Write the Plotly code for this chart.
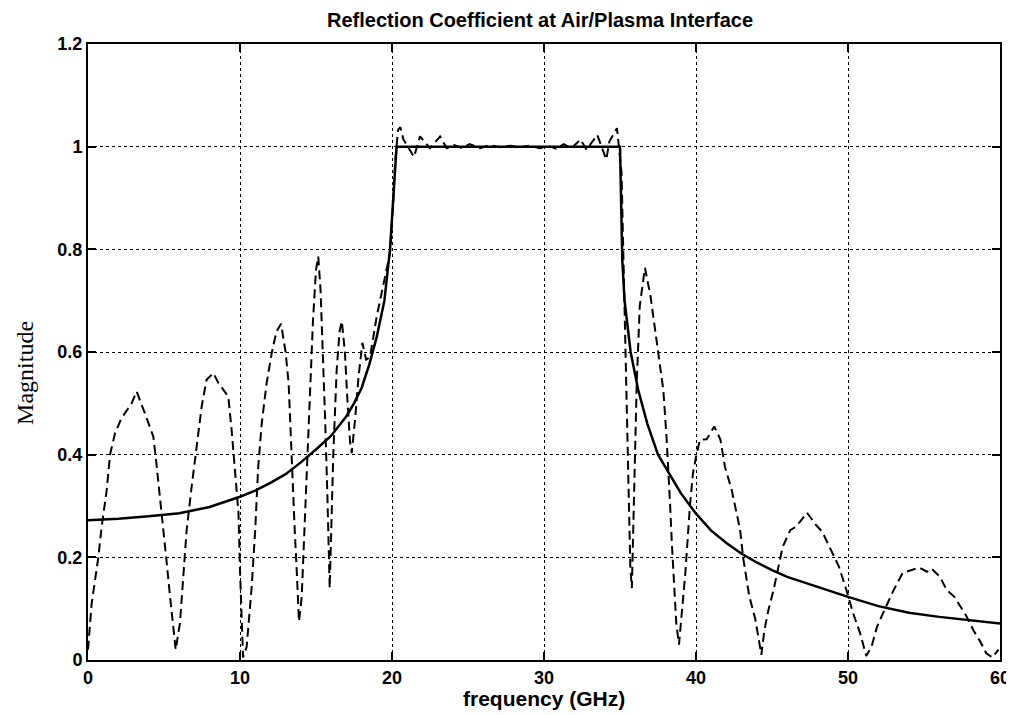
import plotly.graph_objects as go

# Solid curve: ideal reflection magnitude
solid_x = [0, 2, 4, 6, 8, 10, 11, 12, 13, 14, 15, 16, 17, 17.5, 18, 18.5, 19, 19.5, 19.87, 20.1, 20.2, 20.3,
           35.0, 35.05, 35.15, 35.3, 35.55, 35.7, 36.2, 36.8, 37.5, 38.2, 39, 40, 41, 42, 43, 44, 45, 46,
           48, 50, 52, 54, 56, 58, 60]
solid_y = [0.272, 0.275, 0.28, 0.286, 0.298, 0.318, 0.33, 0.345, 0.362, 0.385, 0.41, 0.437, 0.475, 0.5,
           0.53, 0.575, 0.63, 0.70, 0.80, 0.90, 0.955, 1.0,
           1.0, 0.9, 0.78, 0.70, 0.643, 0.60, 0.526, 0.46, 0.40, 0.364, 0.325, 0.285, 0.252, 0.228,
           0.207, 0.19, 0.175, 0.162, 0.142, 0.123, 0.105, 0.092, 0.084, 0.077, 0.071]

# Dashed curve: computed/measured response with ripples
dash_x = [0, 0.24, 0.68, 0.9, 1.23, 1.45, 1.78, 2.2, 2.87, 3.2, 3.75, 4.3, 4.5, 4.74, 4.96, 5.18, 5.4, 5.6,
          5.77, 6.05, 6.27, 6.49, 6.82, 7.15, 7.48, 7.8, 8.25, 8.57, 9.23, 9.45, 9.67, 9.9, 10.0, 10.1,
          10.2, 10.44, 10.77, 11.0, 11.2, 11.43, 11.75, 12.1, 12.4, 12.7, 13.0, 13.2, 13.4, 13.6, 13.73,
          13.88, 14.06, 14.17, 14.28, 14.4, 14.5, 14.6, 14.8, 15.0, 15.15, 15.3, 15.45, 15.6, 15.75, 15.9,
          16.0, 16.14, 16.36, 16.55, 16.7, 16.9, 17.05, 17.24, 17.35, 17.57, 17.8, 18.05, 18.3, 18.55,
          19.0, 19.3, 19.65, 19.87, 20.08, 20.2, 20.4, 20.55, 20.75, 21.3, 21.45, 21.84, 22.5, 23.16,
          23.6, 24.1, 24.6, 25.1, 25.8, 26.4, 27.1, 27.8, 28.4, 29.1, 29.7, 30.4, 30.8, 31.3, 31.8, 32.4,
          32.8, 33.5, 33.8, 34.1, 34.3, 34.8, 35.1, 35.25, 35.35, 35.45, 35.55, 35.68, 35.78, 35.9, 36.1,
          36.3, 36.64, 37.0, 37.3, 37.6, 37.85, 38.07, 38.2, 38.3, 38.4, 38.5, 38.6, 38.7, 38.88, 39.06,
          39.3, 39.6, 39.8, 40.05, 40.26, 40.7, 41.2, 41.6, 41.9, 42.35, 42.7, 42.9, 43.1, 43.3, 43.5,
          43.9, 44.3, 44.5, 44.76, 45.1, 45.5, 45.7, 46.2, 46.6, 47.3, 47.9, 48.3, 48.8, 49.4, 49.9,
          50.35, 50.8, 51.2, 51.55, 51.9, 52.5, 53.0, 53.6, 54.1, 54.7, 55.2, 55.5, 56.05, 56.5, 57.0,
          57.4, 57.8, 58.25, 58.7, 59.1, 59.5, 59.9]
dash_y = [0.02, 0.11, 0.20, 0.26, 0.331, 0.40, 0.442, 0.471, 0.50, 0.523, 0.48, 0.435, 0.383, 0.318, 0.253,
          0.189, 0.123, 0.072, 0.02, 0.072, 0.16, 0.253, 0.338, 0.416, 0.494, 0.546, 0.559, 0.54, 0.513,
          0.448, 0.37, 0.286, 0.175, 0.072, 0.005, 0.026, 0.143, 0.253, 0.377, 0.461, 0.539, 0.60, 0.64,
          0.655, 0.60, 0.539, 0.383, 0.253, 0.175, 0.075, 0.123, 0.20, 0.28, 0.37, 0.455, 0.533, 0.66,
          0.76, 0.786, 0.72, 0.60, 0.47, 0.32, 0.14, 0.25, 0.403, 0.565, 0.64, 0.66, 0.60, 0.515, 0.425,
          0.403, 0.468, 0.552, 0.618, 0.585, 0.59, 0.67, 0.714, 0.76, 0.793, 0.89, 0.968, 1.033, 1.038,
          1.014, 0.985, 0.98, 1.02, 0.997, 1.02, 0.997, 1.003, 0.997, 1.005, 0.997, 1.003, 0.999, 1.002,
          0.999, 1.002, 0.997, 1.0, 0.996, 1.005, 0.997, 1.014, 0.994, 1.023, 0.997, 0.975, 1.01, 1.036,
          0.95, 0.75, 0.6, 0.45, 0.3, 0.18, 0.14, 0.3, 0.54, 0.69, 0.764, 0.71, 0.643, 0.58, 0.526, 0.43,
          0.364, 0.30, 0.234, 0.17, 0.117, 0.072, 0.03, 0.084, 0.17, 0.30, 0.364, 0.403, 0.429, 0.43,
          0.455, 0.43, 0.377, 0.331, 0.286, 0.254, 0.20, 0.165, 0.125, 0.08, 0.01, 0.058, 0.097, 0.136,
          0.189, 0.22, 0.253, 0.26, 0.287, 0.263, 0.25, 0.22, 0.182, 0.136, 0.09, 0.052, 0.008, 0.026,
          0.064, 0.104, 0.136, 0.17, 0.175, 0.18, 0.172, 0.178, 0.162, 0.136, 0.123, 0.104, 0.085, 0.058,
          0.036, 0.013, 0.005, 0.02]

x_ticks = [0, 10, 20, 30, 40, 50, 60]
y_ticks = [0, 0.2, 0.4, 0.6, 0.8, 1.0, 1.2]
y_tick_labels = ["0", "0.2", "0.4", "0.6", "0.8", "1", "1.2"]

W, H = 1006, 707
L, R, T, B = 80, 14, 36, 55

fig = go.Figure()
fig.add_trace(go.Scatter(x=dash_x, y=dash_y, mode="lines",
                         line=dict(color="black", width=2, dash="9px,5px"), showlegend=False))
fig.add_trace(go.Scatter(x=solid_x, y=solid_y, mode="lines",
                         line=dict(color="black", width=2.5), showlegend=False))

tickfont = dict(family="Liberation Sans, Arial, sans-serif", size=18, color="black", weight="bold")
axis_common = dict(showline=True, linecolor="black", linewidth=2, mirror="ticks",
                   ticks="inside", ticklen=8, tickwidth=1.5, tickcolor="black",
                   showgrid=True, gridcolor="black", gridwidth=1, griddash="dot",
                   zeroline=False, tickfont=tickfont, automargin=False)

fig.update_xaxes(range=[0, 60], tickvals=x_ticks, ticktext=[str(v) for v in x_ticks], **axis_common)
fig.update_yaxes(range=[0, 1.2], tickvals=y_ticks, ticktext=y_tick_labels, **axis_common)

fig.add_annotation(text="frequency (GHz)", xref="paper", yref="paper", x=0.5, y=0,
                   xanchor="center", yanchor="middle", yshift=-38, showarrow=False,
                   font=dict(family="Liberation Sans, Arial, sans-serif", size=21, color="black",
                             weight="bold"))
fig.add_annotation(text="Magnitude", xref="paper", yref="paper", x=0, y=0.466,
                   xanchor="center", yanchor="middle", xshift=-63, textangle=-90, showarrow=False,
                   font=dict(family="Liberation Serif, Times New Roman, serif", size=24, color="black"))

fig.update_layout(
    width=W, height=H,
    margin=dict(l=L, r=R, t=T, b=B),
    paper_bgcolor="white", plot_bgcolor="white",
    title=dict(text="Reflection Coefficient at Air/Plasma Interface",
               x=532 / W, xanchor="center", y=1 - 12 / H, yanchor="middle",
               font=dict(family="Liberation Sans, Arial, sans-serif", size=20, color="black",
                         weight="bold")),
)

fig.write_html("out.html")
